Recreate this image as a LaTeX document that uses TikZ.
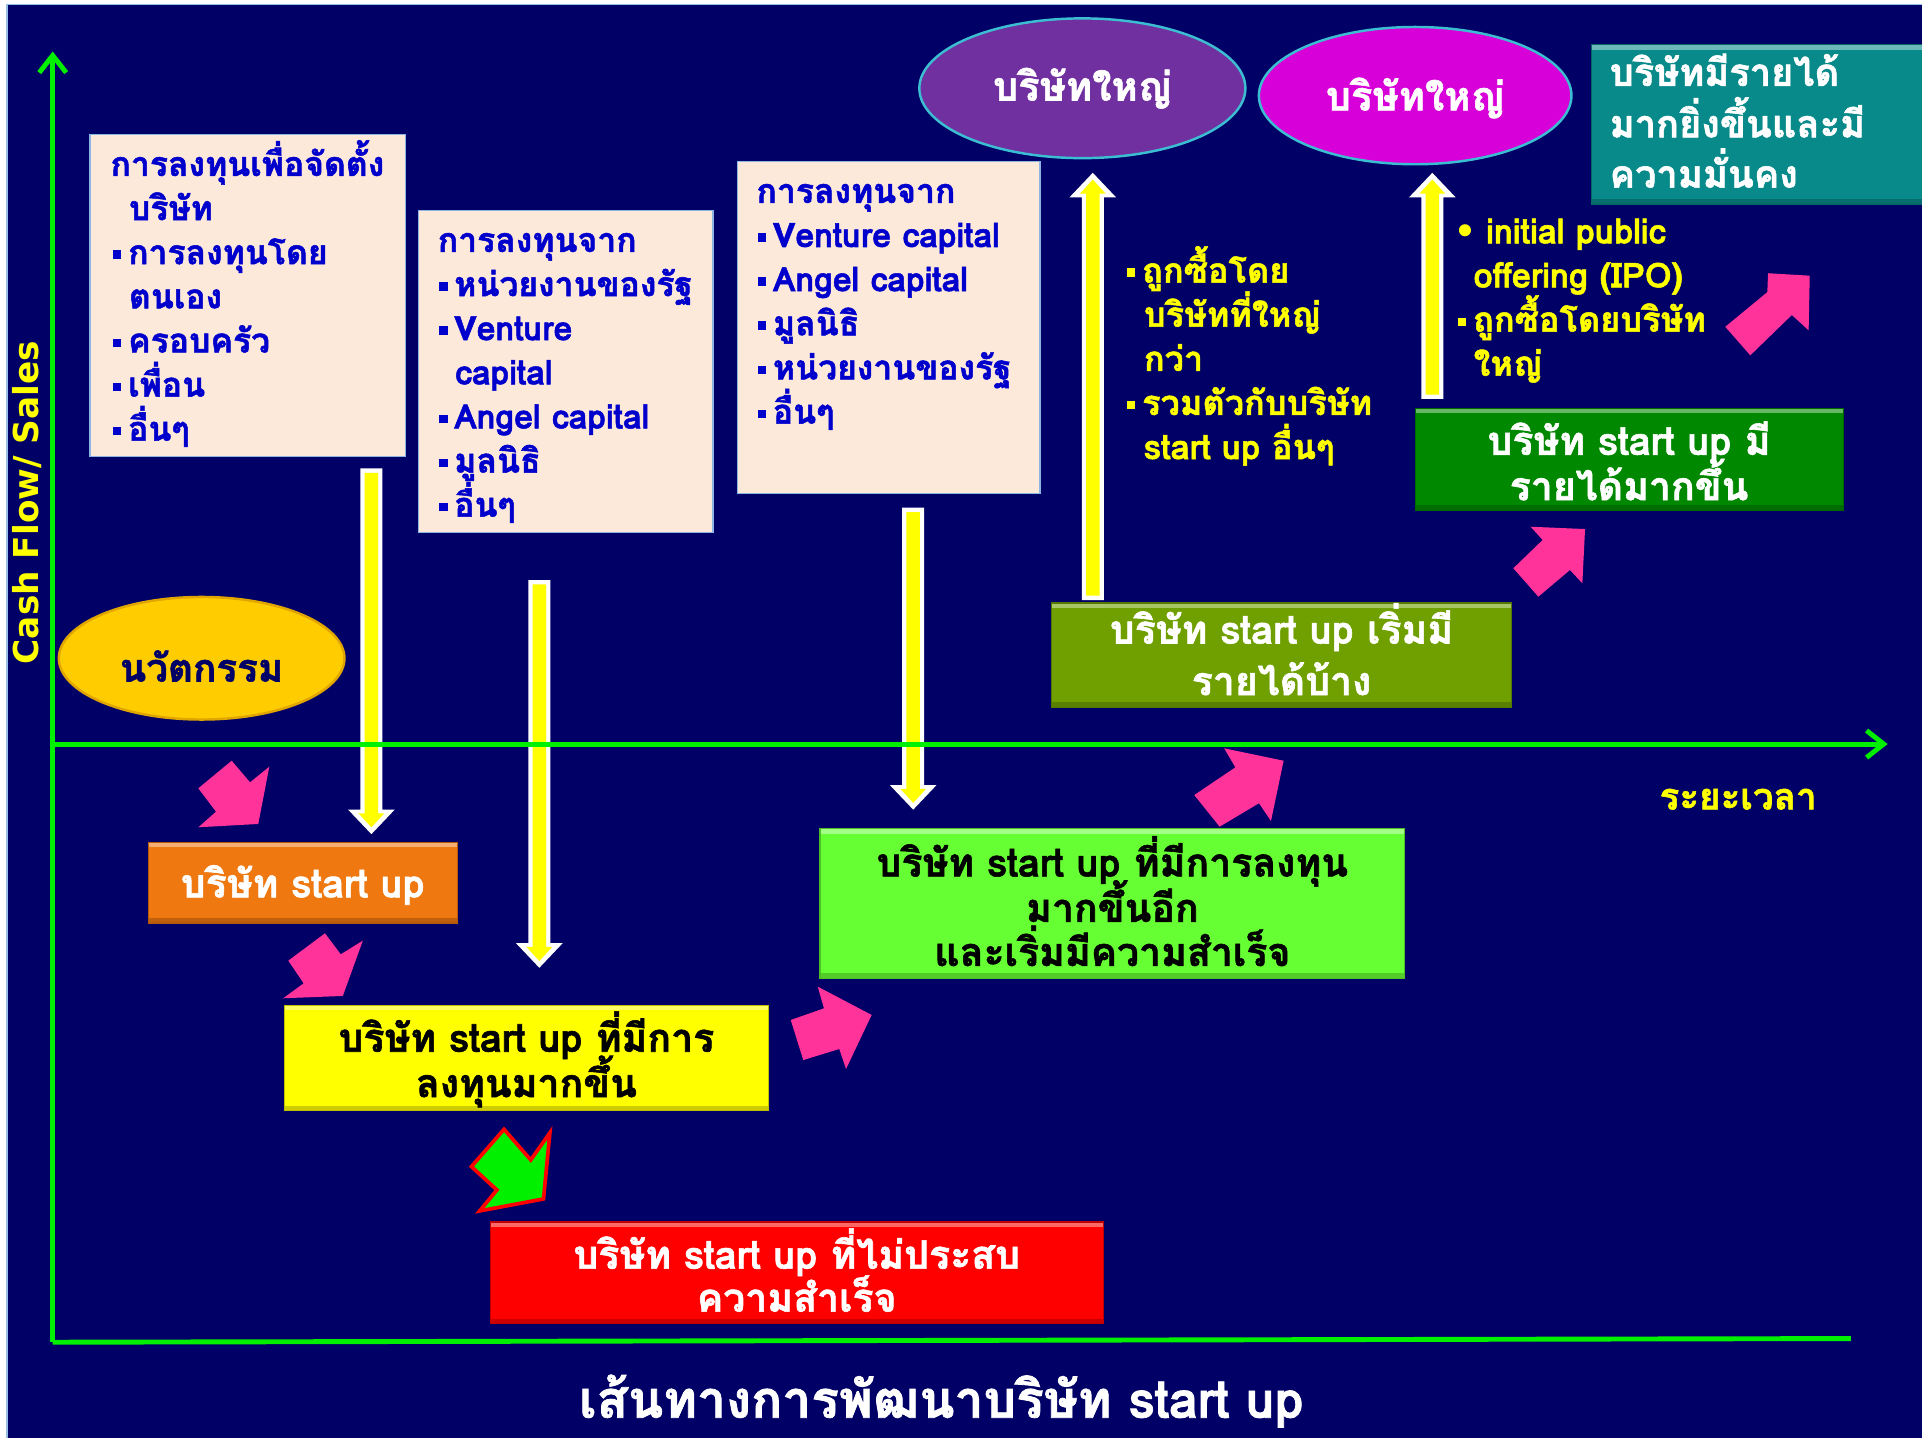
\documentclass[tikz,border=0pt]{standalone}
\usepackage{fontspec}
\setmainfont[Script=Thai, BoldFeatures={FakeBold=1.5}]{Loma}
\newfontfamily\dvs{DejaVu Sans}
\usetikzlibrary{shapes.geometric,arrows.meta,calc}
\definecolor{navyBG}{RGB}{0,0,102}
\definecolor{edgeBlue}{RGB}{150,190,230}
\definecolor{axisGreen}{RGB}{0,240,0}
\definecolor{peach}{RGB}{253,233,217}
\definecolor{peachEdge}{RGB}{142,180,227}
\definecolor{listBlue}{RGB}{0,0,204}
\definecolor{bigPurple}{RGB}{112,48,160}
\definecolor{bigMagenta}{RGB}{216,0,216}
\definecolor{glowCyan}{RGB}{60,190,210}
\definecolor{tealBox}{RGB}{8,138,138}
\definecolor{goldE}{RGB}{255,204,0}
\definecolor{goldEdge}{RGB}{225,165,0}
\definecolor{orangeBox}{RGB}{240,120,16}
\definecolor{yellowBox}{RGB}{255,255,0}
\definecolor{limeBox}{RGB}{102,255,51}
\definecolor{redBox}{RGB}{255,0,0}
\definecolor{oliveBox}{RGB}{112,160,0}
\definecolor{darkGreenBox}{RGB}{0,136,0}
\definecolor{pinkA}{RGB}{255,51,153}
\definecolor{textYellow}{RGB}{255,255,0}
\newcommand\sq{\rule[0.16em]{0.25em}{0.25em}\hspace{0.2em}}
\newcommand\yblock[3]{%
  \fill[white] let \p1=(#1),\p2=(#2) in
    ({\x1-9pt},{\y1}) -- ({\x1-9pt},{\y2+#3*20pt}) -- ({\x1-19pt},{\y2+#3*20pt}) -- ({\x1},{\y2})
    -- ({\x1+19pt},{\y2+#3*20pt}) -- ({\x1+9pt},{\y2+#3*20pt}) -- ({\x1+9pt},{\y1}) -- cycle;
  \fill[yellowBox] let \p1=(#1),\p2=(#2) in
    ({\x1-5.5pt},{\y1-#3*3.5pt}) -- ({\x1-5.5pt},{\y2+#3*17pt}) -- ({\x1-10.5pt},{\y2+#3*17pt}) -- ({\x1},{\y2+#3*5.5pt})
    -- ({\x1+10.5pt},{\y2+#3*17pt}) -- ({\x1+5.5pt},{\y2+#3*17pt}) -- ({\x1+5.5pt},{\y1-#3*3.5pt}) -- cycle;
}
\tikzset{
  ln/.style={anchor=west, inner sep=0pt, text height=22pt, text depth=5pt,
    font=\bfseries\fontsize{27.5}{30}\selectfont},
  listtext/.style={ln, text=listBlue},
  sidetext/.style={ln, text=textYellow, font=\bfseries\fontsize{28}{30}\selectfont},
  bigln/.style={ln, text=white, text height=25pt, font=\bfseries\fontsize{31}{36}\selectfont},
  boxline/.style={anchor=center, inner sep=0pt, text height=25pt, text depth=5pt,
    font=\bfseries\fontsize{32}{36}\selectfont},
  panel/.style={rectangle, anchor=north west, fill=peach, draw=peachEdge, line width=1.2pt, inner sep=0pt},
  stagebox/.style={rectangle, fill=#1, draw=#1!75!black, line width=1pt, inner sep=0pt,
    path picture={
      \fill[#1!60!white] (path picture bounding box.north west) rectangle ([yshift=-4pt]path picture bounding box.north east);
      \fill[#1!80!black] (path picture bounding box.south west) rectangle ([yshift=4pt]path picture bounding box.south east);
    }},
  bigellipse/.style={ellipse, fill=#1, draw=glowCyan, line width=2pt, inner sep=0pt, text=white,
    font=\bfseries\fontsize{32.5}{36}\selectfont},
  pinkarrow/.style={fill=pinkA},
  failarrow/.style={fill=axisGreen, draw=redBox, line width=3pt, line join=miter},
  axisline/.style={draw=axisGreen, line width=4pt},
  axisarrow/.style={axisline, -{Straight Barb[length=14pt,width=22pt]}},
}
\begin{document}
\begin{tikzpicture}[x=1pt,y=-1pt]
\useasboundingbox (0,0) rectangle (1568,1173);
\fill[white] (0,0) rectangle (1568,1173);
\fill[navyBG] (5,3) rectangle (1568,1173);
\draw[edgeBlue, line width=1.2pt] (5.6,1173) -- (5.6,3.6) -- (1568,3.6);

% investment panels
\node[panel, minimum width=257pt, minimum height=263pt] (inv1) at (73,109) {};
\node[panel, minimum width=240pt, minimum height=263pt] (inv2) at (341,171) {};
\node[panel, minimum width=247pt, minimum height=271pt] (inv3) at (601,131) {};

\node[listtext] (t11) at (90,135) {การลงทุนเพื่อจัดตั้ง};
\node[listtext] (t12) at (105,171) {บริษัท};
\node[listtext] (t13) at (92,207) {\sq การลงทุนโดย};
\node[listtext] (t14) at (105,243) {ตนเอง};
\node[listtext] (t15) at (92,279) {\sq ครอบครัว};
\node[listtext] (t16) at (92,315) {\sq เพื่อน};
\node[listtext] (t17) at (92,351) {\sq อื่นๆ};

\node[listtext] (t21) at (357,197) {การลงทุนจาก};
\node[listtext] (t22) at (358,233) {\sq หน่วยงานของรัฐ};
\node[listtext] (t23) at (358,269) {\sq Venture};
\node[listtext] (t24) at (371,305) {capital};
\node[listtext] (t25) at (358,341) {\sq Angel capital};
\node[listtext] (t26) at (358,377) {\sq มูลนิธิ};
\node[listtext] (t27) at (358,413) {\sq อื่นๆ};

\node[listtext] (t31) at (617,157) {การลงทุนจาก};
\node[listtext] (t32) at (618,193) {\sq Venture capital};
\node[listtext] (t33) at (618,229) {\sq Angel capital};
\node[listtext] (t34) at (618,265) {\sq มูลนิธิ};
\node[listtext] (t35) at (618,301) {\sq หน่วยงานของรัฐ};
\node[listtext] (t36) at (618,337) {\sq อื่นๆ};

% large companies and final stage
\node[bigellipse=bigPurple, minimum width=266pt, minimum height=114pt] (big1) at (883,72) {\raisebox{-10pt}[0pt][0pt]{บริษัทใหญ่}};
\node[bigellipse=bigMagenta, minimum width=255pt, minimum height=112pt] (big2) at (1154.5,78) {\raisebox{-12pt}[0pt][0pt]{บริษัทใหญ่}};
\node[stagebox=tealBox, anchor=north west, minimum width=270pt, minimum height=130pt] (stable) at (1298,36) {};
\node[bigln] (st1) at (1313,60) {บริษัทมีรายได้};
\node[bigln] (st2) at (1313,102) {มากยิ่งขึ้นและมี};
\node[bigln] (st3) at (1313,143) {ความมั่นคง};

% innovation
\node[ellipse, fill=goldE, draw=goldEdge, line width=2pt, minimum width=233pt, minimum height=100pt, inner sep=0pt,
  text=navyBG, font=\bfseries\fontsize{31.5}{34}\selectfont] (innov) at (164.5,537) {\raisebox{-19pt}[0pt][0pt]{นวัตกรรม}};

% stage boxes
\node[stagebox=orangeBox, minimum width=252pt, minimum height=66pt] (su1) at (247,720) {};
\node[boxline, text=white] (su1a) at (247,722) {บริษัท start up};
\node[stagebox=yellowBox, minimum width=395pt, minimum height=86pt] (su2) at (429.5,863) {};
\node[boxline, text=black] (su2a) at (429.5,848) {บริษัท start up ที่มีการ};
\node[boxline, text=black] (su2b) at (429.5,885) {ลงทุนมากขึ้น};
\node[stagebox=limeBox, minimum width=477pt, minimum height=122pt] (su3) at (907.5,737) {};
\node[boxline, text=black] (su3a) at (907.5,705) {บริษัท start up ที่มีการลงทุน};
\node[boxline, text=black] (su3b) at (907.5,742) {มากขึ้นอีก};
\node[boxline, text=black] (su3c) at (907.5,778) {และเริ่มมีความสำเร็จ};
\node[stagebox=redBox, minimum width=500pt, minimum height=83pt] (su4) at (650,1038.5) {};
\node[boxline, text=white] (su4a) at (650,1025) {บริษัท start up ที่ไม่ประสบ};
\node[boxline, text=white] (su4b) at (650,1060) {ความสำเร็จ};
\node[stagebox=oliveBox, minimum width=375pt, minimum height=85pt] (su5) at (1045.5,534.5) {};
\node[boxline, text=white] (su5a) at (1045.5,515) {บริษัท start up เริ่มมี};
\node[boxline, text=white] (su5b) at (1045.5,557) {รายได้บ้าง};
\node[stagebox=darkGreenBox, minimum width=349pt, minimum height=83pt] (su6) at (1329.5,374.5) {};
\node[boxline, text=white] (su6a) at (1329,361) {บริษัท start up มี};
\node[boxline, text=white] (su6b) at (1329,398) {รายได้มากขึ้น};

% exit texts
\node[sidetext] (x11) at (919,222) {\sq ถูกซื้อโดย};
\node[sidetext] (x12) at (933,258) {บริษัทที่ใหญ่};
\node[sidetext] (x13) at (933,294) {กว่า};
\node[sidetext] (x14) at (919,330) {\sq รวมตัวกับบริษัท};
\node[sidetext] (x15) at (933,366) {start up อื่นๆ};

\node[sidetext] (x21) at (1186,190) {{\dvs •}\hspace{0.3em}initial public};
\node[sidetext] (x22) at (1202,226) {offering (IPO)};
\node[sidetext] (x23) at (1189,262) {\sq ถูกซื้อโดยบริษัท};
\node[sidetext] (x24) at (1202,298) {ใหญ่};

% yellow block arrows
\coordinate (a1s) at ($(inv1.south west)+(230,9)$);
\coordinate (a1e) at ($(a1s |- su1.north)+(0,-6)$);
\coordinate (a2s) at ($(inv2.south west)+(99,38)$);
\coordinate (a2e) at ($(a2s |- su2.north)+(0,-30)$);
\coordinate (a3s) at ($(inv3.south west)+(144,11)$);
\coordinate (a3e) at ($(a3s |- su3.north)+(0,-15)$);
\coordinate (u1s) at ($(su5.north west)+(34,-2)$);
\coordinate (u1e) at ($(u1s |- big1.south)+(0,11)$);
\coordinate (u2s) at ($(su6.north west)+(14,-7)$);
\coordinate (u2e) at ($(u2s |- big2.south)+(0,6)$);
\yblock{a1s}{a1e}{1}
\yblock{a2s}{a2e}{1}
\yblock{a3s}{a3e}{1}
\yblock{u1s}{u1e}{-1}
\yblock{u2s}{u2e}{-1}

% pink block arrows
\fill[pinkarrow] (189,620.6) -- (204,638.2) -- (219.7,625.5) -- (210.7,672.2) -- (161.8,674.9) -- (176.2,662.2) -- (161.8,643.1) -- cycle;
\fill[pinkarrow] (265.1,761.4) -- (278,778.5) -- (296,767.4) -- (279.7,812.5) -- (231,814.4) -- (247.7,802.2) -- (235.2,783.7) -- cycle;
\fill[pinkarrow] (667.1,804.9) -- (711.1,828) -- (690.2,872.1) -- (684.7,855.8) -- (655.3,864.8) -- (645.1,832.1) -- (672.2,822.6) -- cycle;
\fill[pinkarrow] (998.7,610.5) -- (1047.2,620.6) -- (1036.9,669.8) -- (1027.1,655.3) -- (995,674.4) -- (974.3,648.6) -- (1007.8,626) -- cycle;
\fill[pinkarrow] (1248.7,429.7) -- (1293.1,431.6) -- (1290.9,475.9) -- (1280.8,465) -- (1255,486.8) -- (1234.6,463.6) -- (1258.5,440.5) -- cycle;
\fill[pinkarrow] (1442.4,222.9) -- (1476.4,224.9) -- (1475.5,269.5) -- (1461.8,257) -- (1427.9,289.9) -- (1407.5,266.6) -- (1441.8,238.3) -- cycle;
\filldraw[failarrow] (411.2,921.3) -- (433,946.3) -- (448.6,924.1) -- (443.4,978.1) -- (391.3,987.9) -- (405.4,970.8) -- (384.6,951.7) -- cycle;

% axes
\coordinate (origin) at (43,607);
\coordinate (ytop) at (43,42);
\coordinate (ybot) at (43,1095);
\coordinate (xend) at (1540,607);
\coordinate (bend) at (1510,1092);
\draw[axisarrow] (ybot) -- (ytop);
\draw[axisarrow] (origin) -- (xend);
\draw[axisline] (ybot) -- (bend);

% labels
\node[rotate=90, text=textYellow, inner sep=0pt, font=\dvs\bfseries\fontsize{28}{30}\selectfont] (ylab) at (22,410) {Cash Flow/ Sales};
\node[text=textYellow, inner sep=0pt, font=\bfseries\fontsize{30}{32}\selectfont] (xlab) at (1418,652) {ระยะเวลา};
\node[text=white, inner sep=0pt, font=\bfseries\fontsize{42}{46}\selectfont] (title) at (768,1143) {เส้นทางการพัฒนาบริษัท start up};
\end{tikzpicture}
\end{document}
